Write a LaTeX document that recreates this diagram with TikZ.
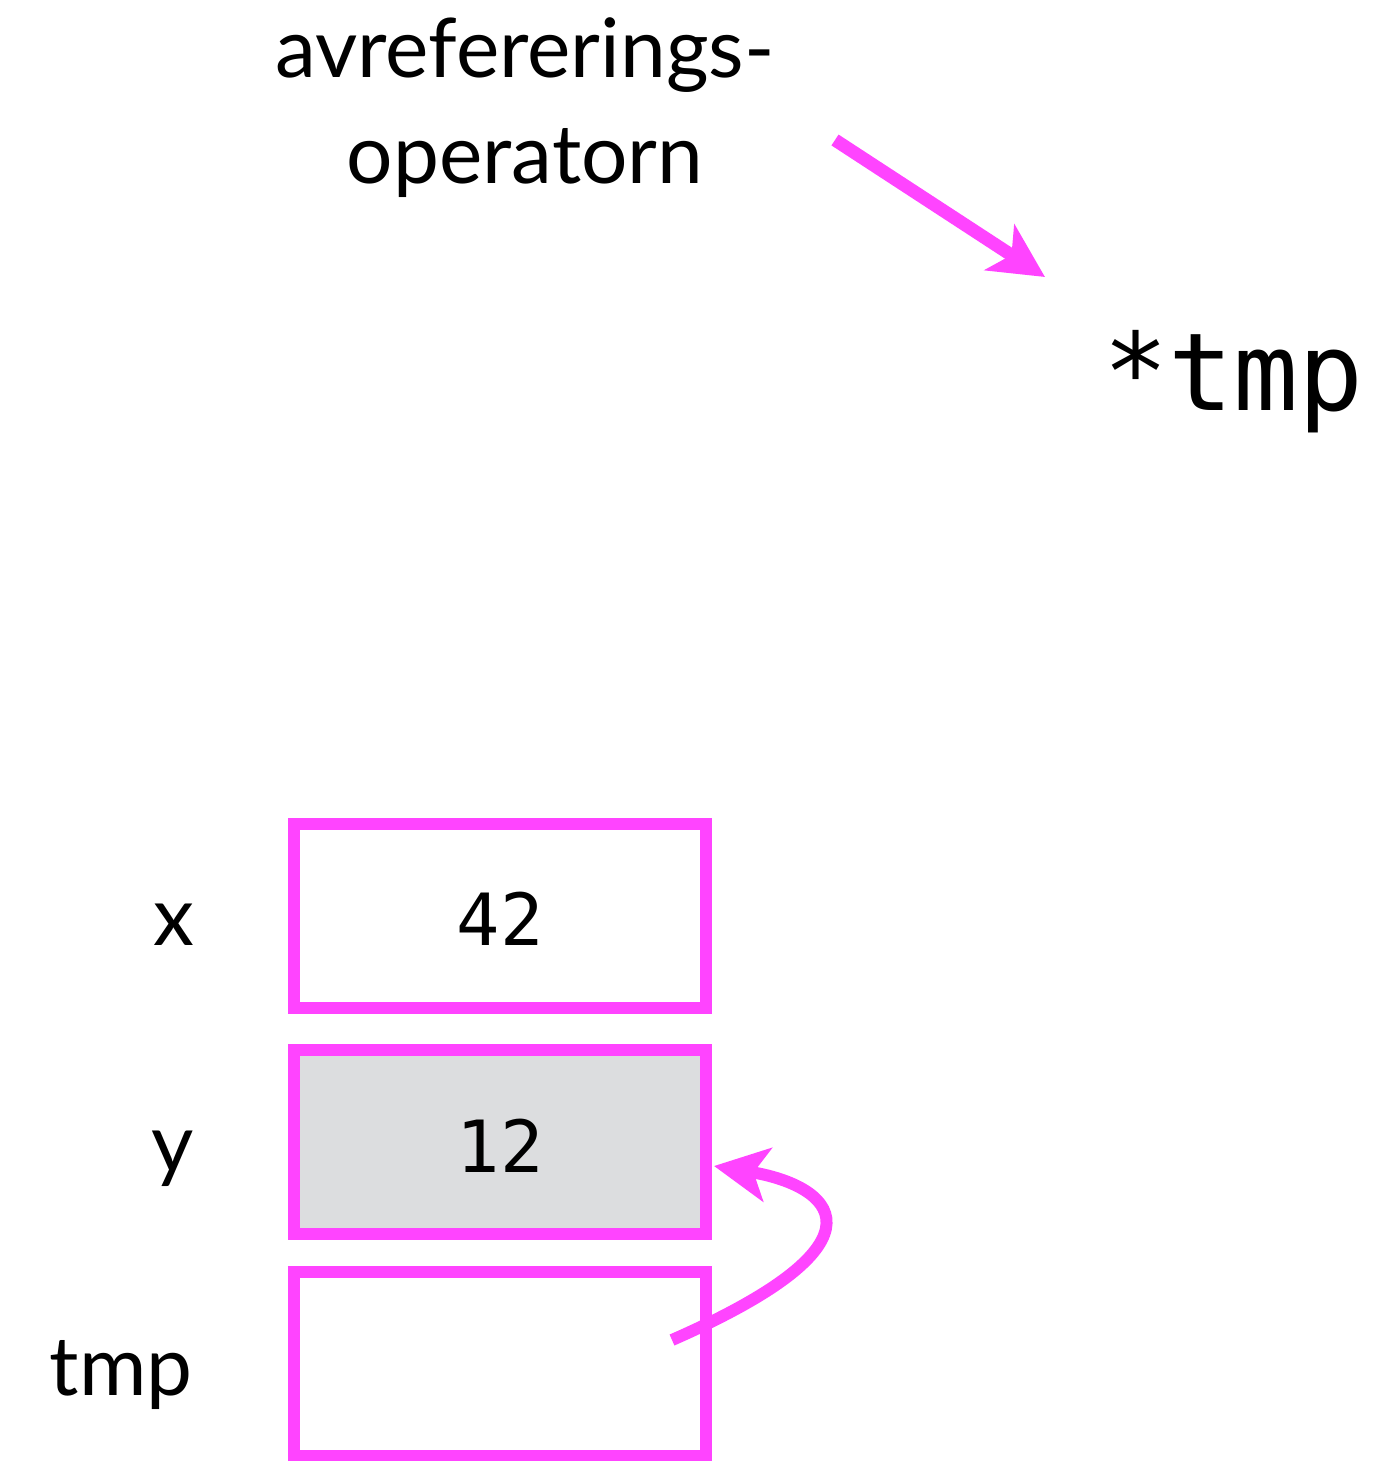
\documentclass[tikz,border=0pt]{standalone}
\usepackage{fontspec}
\setmainfont{Lato}
\setmonofont{DejaVu Sans Mono}
\usetikzlibrary{arrows.meta}
\definecolor{mag}{RGB}{255,68,255}
\definecolor{cellgray}{RGB}{220,221,223}
\tikzset{
  cell/.style={draw=mag, line width=12pt, minimum width=412pt, minimum height=184pt, inner sep=0pt},
  lbl/.style={font=\fontsize{82}{106}\selectfont, inner sep=0pt},
  num/.style={font=\fontsize{72}{86}\selectfont\ttfamily, inner sep=0pt},
  ptr/.style={draw=mag, line width=13pt, -{Stealth[length=54pt, width=54pt, inset=14pt]}},
}
\begin{document}
\begin{tikzpicture}[x=1pt, y=-1pt]
\useasboundingbox (0,0) rectangle (1378,1461);
% heading
\node[lbl, align=center, anchor=base] (head) at (525,183) {avrefererings-\\operatorn};
\node[font=\fontsize{108}{120}\selectfont\ttfamily, inner sep=0pt, anchor=base west] (deref) at (1103,410) {*tmp};
\coordinate (a1s) at (835,140);
\coordinate (a1e) at (1045,277);
\draw[ptr] (a1s) -- (a1e);
% cells
\node[cell] (cx) at (500,916) {};
\node[cell, fill=cellgray] (cy) at (500,1141.5) {};
\node[cell] (ct) at (500,1364) {};
\node[num, anchor=base] (vx) at (500,945) {42};
\node[num, anchor=base] (vy) at (500,1172) {12};
% labels
\node[lbl, anchor=base east] (lx) at (195,945) {x};
\node[lbl, anchor=base east] (ly) at (194,1172) {y};
\node[lbl, anchor=base east] (lt) at (193,1395) {tmp};
% pointer
\coordinate (ps) at (672,1340);
\coordinate (pe) at (714,1166);
\draw[ptr, line width=12pt] (ps) .. controls (900,1240) and (830,1185) .. (pe);
\end{tikzpicture}
\end{document}
